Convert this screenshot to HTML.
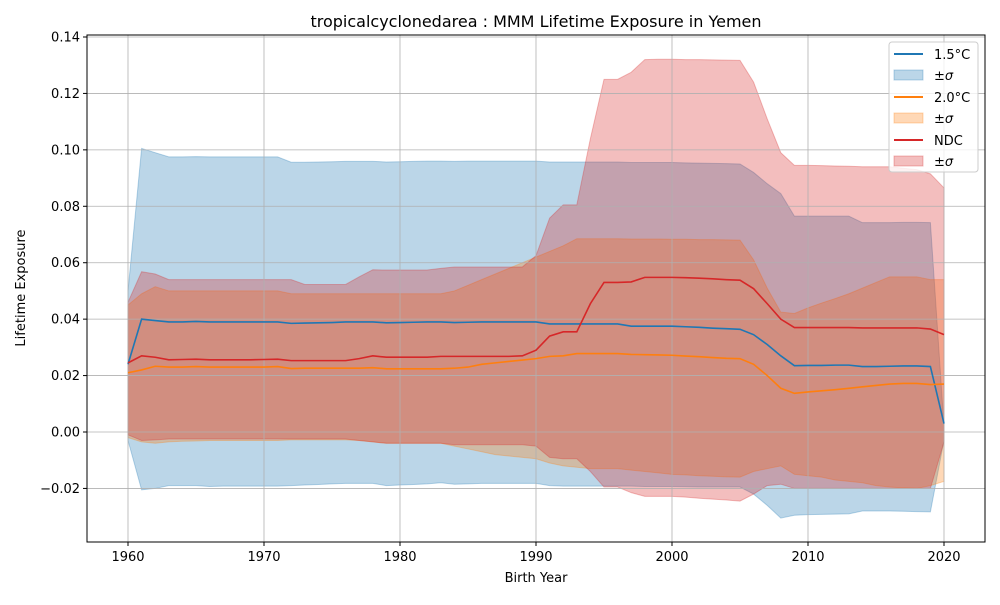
<!DOCTYPE html>
<html><head><meta charset="utf-8"><style>
body{margin:0;background:#fff;}
svg text{font-family:"DejaVu Sans","Liberation Sans",sans-serif;}
</style></head><body>
<svg id="chart" width="1000" height="600" xmlns="http://www.w3.org/2000/svg">
<rect width="1000" height="600" fill="#fff"/>
<g id="bands"></g>
<g id="grid"></g>
<g id="lines"></g>
<rect x="87" y="35" width="898" height="507" fill="none" stroke="#000" stroke-width="1"/>
<g id="axes"></g>
<text x="536" y="27" text-anchor="middle" font-size="16">tropicalcyclonedarea : MMM Lifetime Exposure in Yemen</text>
<text x="536" y="582" text-anchor="middle" font-size="13">Birth Year</text>
<text x="25" y="288" text-anchor="middle" font-size="13" transform="rotate(-90 25 288)">Lifetime Exposure</text>
<g id="legend">
<rect x="889" y="42" width="89" height="130" rx="3" fill="#fff" fill-opacity="0.8" stroke="#ccc"/>
<line x1="894" y1="54" x2="923" y2="54" stroke="#1f77b4" stroke-width="2"/>
<text x="934" y="59" font-size="13">1.5°C</text>
<rect x="894" y="70" width="29" height="10" fill="#1f77b4" fill-opacity="0.3" stroke="#1f77b4" stroke-opacity="0.3"/>
<text x="934" y="80" font-size="13" font-style="italic">±σ</text>
<line x1="894" y1="97" x2="923" y2="97" stroke="#ff7f0e" stroke-width="2"/>
<text x="934" y="102" font-size="13">2.0°C</text>
<rect x="894" y="113" width="29" height="10" fill="#ff7f0e" fill-opacity="0.3" stroke="#ff7f0e" stroke-opacity="0.3"/>
<text x="934" y="123" font-size="13" font-style="italic">±σ</text>
<line x1="894" y1="140" x2="923" y2="140" stroke="#d62728" stroke-width="2"/>
<text x="934" y="145" font-size="13">NDC</text>
<rect x="894" y="156" width="29" height="10" fill="#d62728" fill-opacity="0.3" stroke="#d62728" stroke-opacity="0.3"/>
<text x="934" y="166" font-size="13" font-style="italic">±σ</text>
</g>
</svg>
<script>
const years = Array.from({length:61},(_,i)=>1960+i);
const xTicks = [1960,1970,1980,1990,2000,2010,2020];
const yTicks = [-0.02,0,0.02,0.04,0.06,0.08,0.10,0.12,0.14];
const yTickLabels = ["−0.02","0.00","0.02","0.04","0.06","0.08","0.10","0.12","0.14"];
const mean15 = [.024,.040,.0395,.039,.039,.0392,.039,.039,.039,.039,
.039,.039,.0385,.0386,.0387,.0388,.039,.039,.039,.0387,
.0388,.0389,.039,.039,.0388,.0389,.039,.039,.039,.039,
.039,.0383,.0383,.0383,.0383,.0383,.0383,.0375,.0375,.0375,
.0375,.0373,.0371,.0368,.0366,.0364,.0345,.031,.027,.0235,
.0236,.0236,.0237,.0237,.0232,.0232,.0233,.0234,.0234,.0232,.003];
const upper15 = [.050,.1005,.099,.0975,.0975,.0976,.0975,.0975,.0975,.0975,
.0975,.0975,.0956,.0956,.0957,.0958,.0959,.0959,.0959,.0957,
.0958,.0959,.096,.096,.0959,.096,.096,.096,.096,.096,
.096,.0957,.0957,.0957,.0957,.0957,.0957,.0955,.0955,.0955,
.0955,.0954,.0953,.0952,.0951,.095,.092,.088,.0845,.0765,
.0765,.0765,.0765,.0765,.0742,.0742,.0742,.0743,.0743,.0742,.002];
const lower15 = [-.003,-.0205,-.020,-.019,-.019,-.019,-.0193,-.0192,-.0192,-.0192,
-.0192,-.0192,-.019,-.0188,-.0186,-.0184,-.0182,-.0182,-.0182,-.019,
-.0188,-.0186,-.0184,-.018,-.0185,-.0184,-.0182,-.0182,-.0182,-.0182,
-.0182,-.019,-.0192,-.0192,-.0192,-.0192,-.0192,-.0192,-.0193,-.0193,
-.0193,-.0194,-.0195,-.0195,-.0195,-.0195,-.022,-.026,-.0305,-.0295,
-.0293,-.0292,-.0291,-.029,-.028,-.028,-.028,-.0281,-.0282,-.0283,-.003];
const mean20 = [.021,.022,.0233,.023,.023,.0232,.023,.023,.023,.023,
.023,.0232,.0225,.0226,.0226,.0226,.0226,.0226,.0228,.0224,
.0224,.0224,.0224,.0224,.0226,.023,.024,.0245,.025,.0255,
.026,.0268,.027,.0278,.0278,.0278,.0278,.0275,.0274,.0273,
.0272,.0269,.0267,.0264,.0261,.026,.024,.020,.0155,.0137,
.0142,.0146,.015,.0155,.016,.0165,.017,.0172,.0172,.0168,.017];
const upper20 = [.045,.049,.0515,.050,.050,.050,.050,.050,.050,.050,
.050,.050,.049,.049,.049,.049,.049,.049,.049,.049,
.049,.049,.049,.049,.050,.052,.054,.056,.058,.060,
.062,.064,.066,.0685,.0685,.0685,.0685,.0684,.0684,.0684,
.0683,.0683,.0682,.0682,.0681,.068,.061,.051,.0425,.042,
.044,.0457,.0473,.049,.051,.053,.055,.055,.055,.054,.054];
const lower20 = [-.002,-.0035,-.004,-.0035,-.0033,-.0032,-.003,-.003,-.003,-.003,
-.003,-.003,-.0028,-.0028,-.0028,-.0028,-.0028,-.003,-.0035,-.004,
-.004,-.004,-.004,-.004,-.005,-.006,-.007,-.008,-.0085,-.009,
-.0095,-.011,-.012,-.0125,-.013,-.013,-.013,-.0135,-.014,-.0145,
-.015,-.0152,-.0155,-.0157,-.0159,-.016,-.014,-.013,-.012,-.015,
-.0155,-.016,-.017,-.0175,-.018,-.019,-.0195,-.0198,-.020,-.019,-.0175];
const meanNdc = [.0245,.027,.0265,.0256,.0257,.0258,.0256,.0256,.0256,.0256,
.0257,.0258,.0253,.0253,.0253,.0253,.0253,.026,.027,.0265,
.0265,.0265,.0265,.0268,.0268,.0268,.0268,.0268,.0268,.027,
.029,.034,.0355,.0355,.0455,.053,.053,.0532,.0548,.0548,
.0548,.0547,.0545,.0543,.054,.0538,.0508,.0455,.040,.037,
.037,.037,.037,.037,.0369,.0369,.0369,.0369,.0369,.0365,.0345];
const upperNdc = [.046,.0568,.056,.054,.054,.054,.054,.054,.054,.054,
.054,.054,.054,.0523,.0523,.0523,.0523,.055,.0575,.0574,
.0574,.0574,.0574,.058,.0585,.0585,.0585,.0585,.0585,.0585,
.0625,.0758,.0805,.0805,.104,.125,.125,.1275,.132,.1321,
.1321,.132,.132,.1319,.1318,.1317,.124,.111,.099,.0945,
.0945,.0944,.0943,.0942,.094,.094,.094,.0935,.093,.0915,.0865];
const lowerNdc = [-.001,-.003,-.0028,-.0025,-.0025,-.0025,-.0025,-.0025,-.0025,-.0025,
-.0025,-.0025,-.0025,-.0025,-.0025,-.0025,-.0025,-.003,-.0035,-.004,
-.004,-.004,-.004,-.004,-.0045,-.0045,-.0045,-.0045,-.0045,-.0045,
-.005,-.009,-.0095,-.0095,-.014,-.0195,-.0195,-.0215,-.0228,-.0228,
-.0228,-.0231,-.0235,-.0238,-.0241,-.0245,-.022,-.019,-.0185,-.020,
-.020,-.020,-.020,-.020,-.020,-.020,-.020,-.020,-.020,-.020,-.0035];

const NS="http://www.w3.org/2000/svg";
const xS = v => 128 + (v-1960)*(944-128)/60;
const yS = v => 432 - v*(432-37)/0.14;
function mk(tag, attrs, parent){const e=document.createElementNS(NS,tag);for(const k in attrs)e.setAttribute(k,attrs[k]);parent.appendChild(e);return e;}
const grid=document.getElementById('grid'), axes=document.getElementById('axes'), bandsG=document.getElementById('bands'), linesG=document.getElementById('lines');
xTicks.forEach(t=>{
  const g=mk('line',{x1:xS(t),x2:xS(t),y1:35,y2:542,stroke:'#b0b0b0','stroke-width':0.8},grid);
  
  
  mk('line',{x1:xS(t),x2:xS(t),y1:542,y2:546,stroke:'#000'},axes);
  const tx=mk('text',{x:xS(t),y:561,'text-anchor':'middle','font-size':13},axes);
  tx.textContent=t;
  
  
});
yTicks.forEach((t,i)=>{
  const g=mk('line',{x1:87,x2:985,y1:yS(t),y2:yS(t),stroke:'#b0b0b0','stroke-width':0.8},grid);
  
  
  mk('line',{x1:83,x2:87,y1:yS(t),y2:yS(t),stroke:'#000'},axes);
  const tx=mk('text',{x:80,y:yS(t)+4.5,'text-anchor':'end','font-size':13},axes);
  tx.textContent=yTickLabels[i];
  
  
});
function band(up,lo,color,name){
  let d='M'+years.map((y,i)=>xS(y)+','+yS(up[i])).join('L');
  d+='L'+years.slice().reverse().map((y,j)=>xS(y)+','+yS(lo[lo.length-1-j])).join('L')+'Z';
  const p=mk('path',{d:d,fill:color,'fill-opacity':0.3,stroke:color,'stroke-opacity':0.3},bandsG);
  
  
}
function line(m,color,name){
  const p=mk('polyline',{points:years.map((y,i)=>xS(y)+','+yS(m[i])).join(' '),fill:'none',stroke:color,'stroke-width':1.6},linesG);
  
  
}
band(upper15,lower15,'#1f77b4','band-1-5c');
band(upper20,lower20,'#ff7f0e','band-2-0c');
band(upperNdc,lowerNdc,'#d62728','band-ndc');
line(mean15,'#1f77b4','line-1-5c');
line(mean20,'#ff7f0e','line-2-0c');
line(meanNdc,'#d62728','line-ndc');
</script>
</body></html>
